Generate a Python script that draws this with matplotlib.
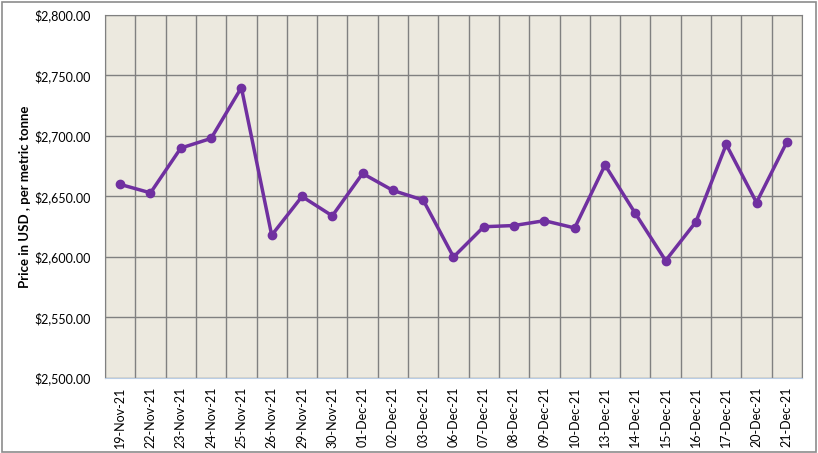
import numpy as np
import matplotlib
matplotlib.use("Agg")
from matplotlib import pyplot as plt
from matplotlib.patches import Rectangle
from matplotlib.ticker import FuncFormatter, MultipleLocator

dates = ["19-Nov-21", "22-Nov-21", "23-Nov-21", "24-Nov-21", "25-Nov-21",
         "26-Nov-21", "29-Nov-21", "30-Nov-21", "01-Dec-21", "02-Dec-21",
         "03-Dec-21", "06-Dec-21", "07-Dec-21", "08-Dec-21", "09-Dec-21",
         "10-Dec-21", "13-Dec-21", "14-Dec-21", "15-Dec-21", "16-Dec-21",
         "17-Dec-21", "20-Dec-21", "21-Dec-21"]
prices = [2660, 2653, 2690, 2698, 2740,
          2618, 2650, 2634, 2669, 2655,
          2647, 2600, 2625, 2626, 2630,
          2624, 2676, 2636, 2597, 2629,
          2693, 2645, 2695]

plt.rcParams['font.family'] = ['Lato', 'DejaVu Sans']

fig = plt.figure(figsize=(8.18, 4.53), dpi=100)
fig.patches.append(Rectangle((0.002, 0.003), 0.996, 0.993, transform=fig.transFigure,
                             fill=False, edgecolor='#8c8c8c', linewidth=1.2))
ax = fig.add_axes([0.1284, 0.1656, 0.8520, 0.8013])
ax.set_facecolor('#ECE9DF')

x = np.arange(len(dates))
ax.plot(x, prices, color='#7030A0', linewidth=2.5, marker='o', markersize=6, zorder=3)

ax.set_xlim(-0.5, len(dates) - 0.5)
ax.set_ylim(2500, 2800)
ax.yaxis.set_major_locator(MultipleLocator(50))
ax.yaxis.set_major_formatter(FuncFormatter(lambda v, p: "${:,.2f}".format(v)))
ax.set_xticks(x)
ax.set_xticklabels(dates, rotation=90)
ax.set_xticks(np.arange(-0.5, len(dates), 1), minor=True)

ax.grid(True, axis='y', which='major', color='#808080', linewidth=1)
ax.grid(True, axis='x', which='minor', color='#808080', linewidth=1)
ax.set_axisbelow(True)
ax.tick_params(axis='both', which='both', length=0, labelsize=9, colors='black')
ax.tick_params(axis='x', pad=6)
ax.tick_params(axis='y', pad=10)

for s in ['top', 'right', 'left']:
    ax.spines[s].set_color('#808080')
ax.spines['bottom'].set_color('#B9CDE5')

ax.set_ylabel("Price in USD , per metric tonne", fontsize=9.5, fontweight='bold', labelpad=3)

plt.savefig('out.png', dpi=100)
